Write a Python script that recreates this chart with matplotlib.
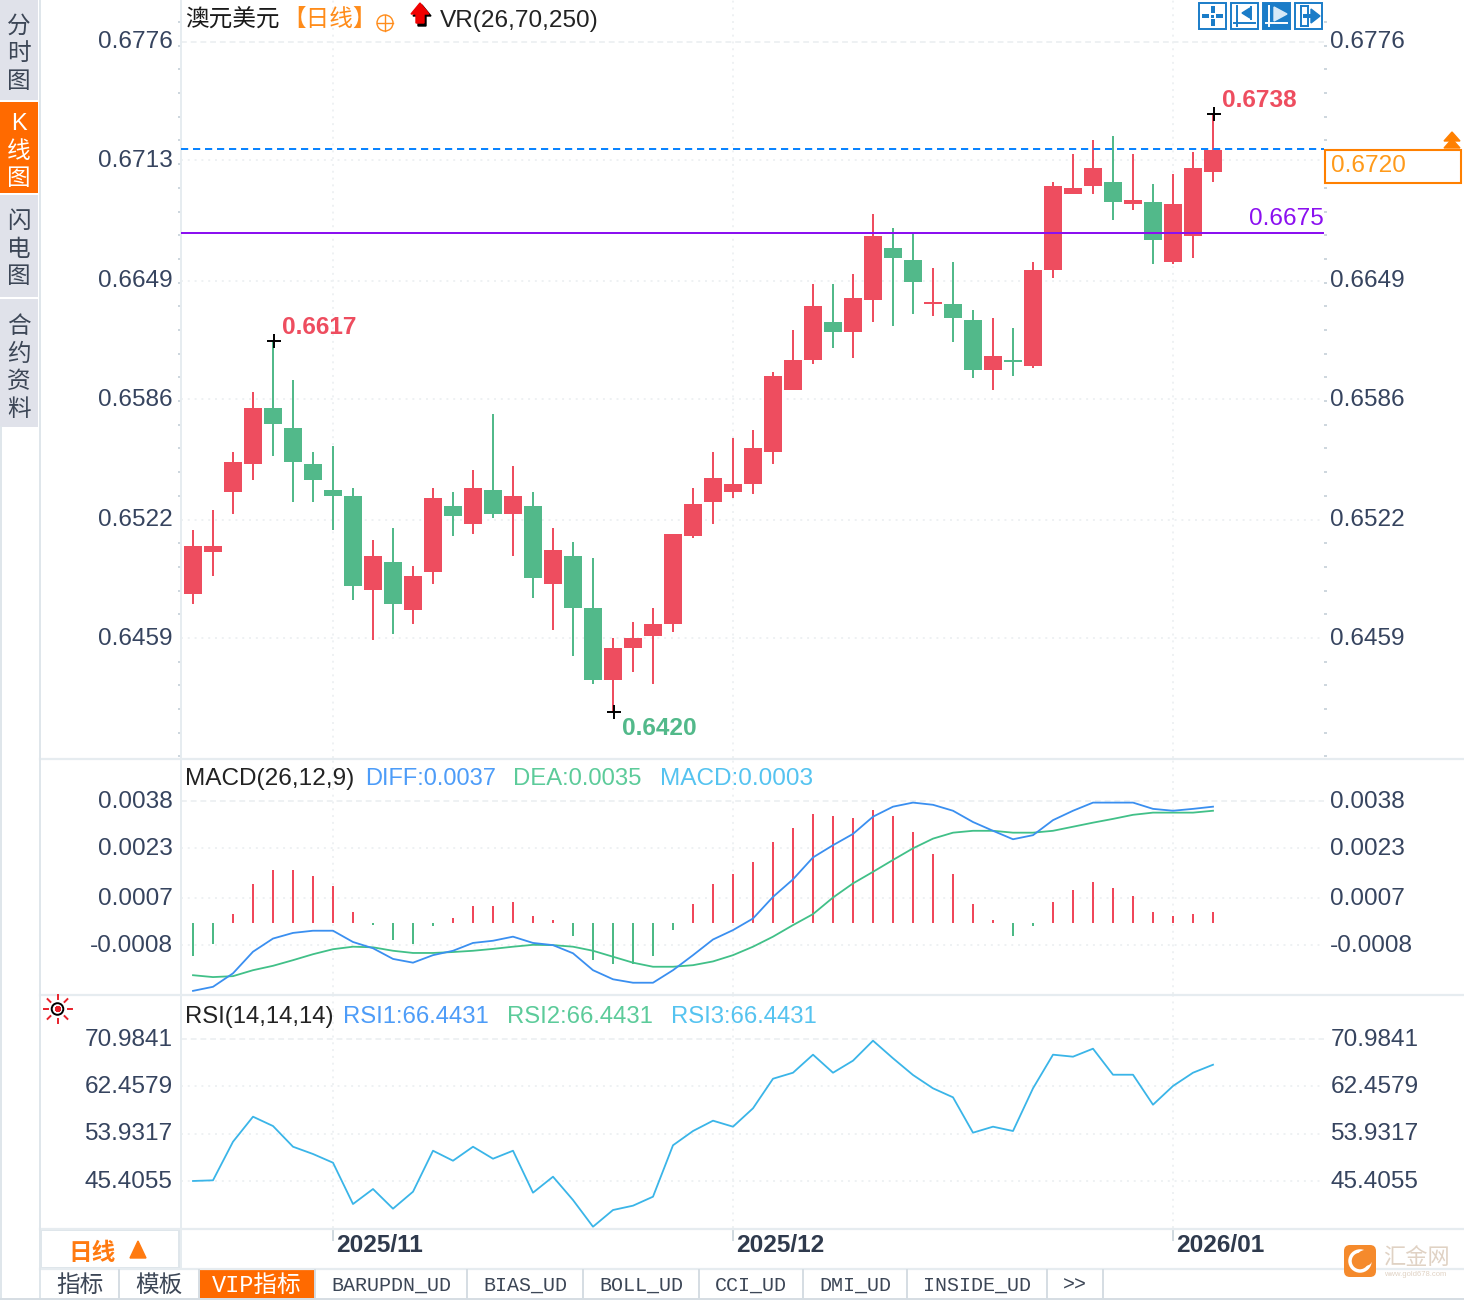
import matplotlib
matplotlib.use('Agg')
import math
import matplotlib.pyplot as plt
from matplotlib.patches import Rectangle, Polygon, Circle, FancyBboxPatch
from matplotlib.ticker import AutoMinorLocator
from matplotlib.transforms import ScaledTranslation

plt.rcParams['font.family'] = ['Liberation Sans', 'Noto Sans CJK SC', 'DejaVu Sans']

# candles, red when close >= open
opens = [.64824, .65047, .65366, .65515, .65813, .65707, .65515, .65377, .65345, .64845,
         .64994, .64739, .64941, .65292, .65196, .65377, .65249, .65292, .64877, .65026,
         .64749, .64367, .64537, .64601, .64664, .65132, .65313, .65366, .65409, .65579,
         .65909, .66069, .66271, .66218, .66388, .66664, .66600, .66366, .66366, .66281,
         .66015, .66069, .66037, .66547, .66952, .66994, .67015, .66898, .66909, .66590,
         .66728, .67069]
highs = [.65164, .65271, .65579, .65898, .66170, .65962, .65579, .65611, .65388, .65111,
         .65175, .64973, .65388, .65366, .65484, .65781, .65505, .65366, .65175, .65101,
         .65015, .64590, .64675, .64749, .65143, .65388, .65579, .65654, .65696, .66005,
         .66228, .66473, .66473, .66526, .66845, .66771, .66744, .66558, .66590, .66335,
         .66292, .66239, .66590, .67015, .67164, .67239, .67260, .67164, .67005, .67058,
         .67175, .67376]
lows = [.64771, .64920, .65249, .65430, .65558, .65313, .65313, .65164, .64792, .64579,
        .64611, .64664, .64877, .65132, .65143, .65228, .65026, .64803, .64632, .64494,
        .64345, .64196, .64409, .64345, .64622, .65122, .65196, .65335, .65356, .65515,
        .65909, .66047, .66132, .66079, .66271, .66249, .66313, .66303, .66164, .65973,
        .65909, .65983, .66026, .66505, .66952, .66952, .66813, .66866, .66579, .66579,
        .66611, .67015]
closes = [.65079, .65079, .65526, .65813, .65728, .65526, .65430, .65345, .64866, .65026,
          .64771, .64920, .65335, .65239, .65388, .65249, .65345, .64909, .65058, .64749,
          .64367, .64537, .64590, .64664, .65143, .65303, .65441, .65409, .65601, .65983,
          .66069, .66356, .66218, .66398, .66728, .66611, .66483, .66377, .66292, .66015,
          .66090, .66058, .66547, .66994, .66983, .67090, .66909, .66920, .66707, .66898,
          .67090, .67186]
price_ticks = [0.6776, 0.6713, 0.6649, 0.6586, 0.6522, 0.6459]
last_price = 0.67190
purple_level = 0.66745

macd_hist = [-.00115, -.00077, .00019, .00115, .0016, .0016, .0014, .00109, .00025, -.00015,
             -.00064, -.00077, -.00019, .00006, .00045, .00045, .00057, .00013, .0, -.00051,
             -.00128, -.00141, -.00139, -.00115, -.00032, .00051, .00115, .00147, .00185, .00249,
             .00294, .00338, .00332, .00326, .00351, .00332, .00281, .00211, .00147, .00051,
             .0, -.00051, -.00019, .00057, .00096, .00121, .00102, .00077, .00025, .00013,
             .00019, .00025]
macd_base = -.0001
diff = [-.00226, -.00213, -.0017, -.00101, -.00059, -.00041, -.00034, -.00034, -.0007, -.0009,
        -.00124, -.00136, -.00112, -.00098, -.00073, -.00066, -.00053, -.00073, -.0008, -.00106,
        -.0016, -.00189, -.002, -.002, -.0016, -.00112, -.00062, -.00032, .00005, .00074,
        .0013, .002, .00239, .00275, .0033, .00362, .00375, .00368, .00349, .00313,
        .00285, .00258, .00271, .00319, .00349, .00375, .00375, .00375, .00355, .00349,
        .00355, .00362]
dea = [-.00176, -.00182, -.00179, -.0016, -.00146, -.00128, -.00109, -.00093, -.00085, -.00087,
       -.00098, -.00105, -.00105, -.00102, -.00098, -.00092, -.00085, -.00079, -.0008, -.00085,
       -.00098, -.00117, -.00136, -.00149, -.00149, -.00144, -.00132, -.00112, -.00085, -.00053,
       -.00016, .00019, .00072, .00117, .00154, .00192, .00229, .0026, .00279, .00285,
       .00285, .00279, .00279, .00285, .00298, .00311, .00323, .00336, .00343, .00343,
       .00343, .00349]
macd_ticks = [0.0038, 0.0023, 0.0007, -0.0008]

rsi = [45.41, 45.53, 52.48, 56.99, 55.31, 51.58, 50.27, 48.70, 41.26, 43.96,
       40.42, 43.48, 50.86, 49.06, 51.58, 49.42, 50.86, 43.30, 46.18, 41.98,
       37.17, 40.18, 40.96, 42.58, 51.84, 54.41, 56.27, 55.19, 58.50, 63.83,
       64.91, 68.16, 64.91, 67.08, 70.68, 67.51, 64.50, 62.10, 60.48, 54.11,
       55.19, 54.41, 62.10, 68.16, 67.80, 69.24, 64.55, 64.55, 59.15, 62.52,
       64.91, 66.35]
rsi_ticks = [70.9841, 62.4579, 53.9317, 45.4055]

month_pos = [7, 27, 49]
month_labels = ['2025/11', '2025/12', '2026/01']
bottom_tabs = ['指标', '模板', 'VIP指标', 'BARUPDN_UD', 'BIAS_UD', 'BOLL_UD', 'CCI_UD', 'DMI_UD', 'INSIDE_UD', '>>']
tab_edges = [40, 119, 199, 315, 467, 583, 699, 803, 907, 1047, 1103]
side_tabs = [('分时图', 0, 100, 27), ('K线图', 102, 193, 124), ('闪电图', 195, 297, 222), ('合约资料', 299, 427, 327)]

W, H = 1464, 1300
RED = '#ee4d5f'
GREEN = '#52b98a'
GRID = '#eef1f3'
LINE = '#e6ecf0'
TXT = '#36445f'
FS = 17.6
PX = 0.72  # one pixel in points at dpi 100

fig = plt.figure(figsize=(W / 100, H / 100), dpi=100)
xs = list(range(len(opens)))


def panel(top, bottom):
    a = fig.add_axes([181 / W, 1 - bottom / H, (1324 - 181) / W, (bottom - top) / H])
    a.set_xlim(-0.6, 56.55)
    a.set_xticks([])
    for s in ['top', 'right', 'bottom']:
        a.spines[s].set_visible(False)
    a.spines['left'].set_color(LINE)
    a.spines['left'].set_linewidth(1.4)
    return a


def grids(a, ticks, labels):
    a.set_yticks(ticks)
    a.set_yticklabels(labels, fontsize=FS, color=TXT)
    a.tick_params(axis='y', length=0, labelleft=True, labelright=True)
    a.tick_params(axis='y', pad=6)
    up = ScaledTranslation(0, 2 / 100, fig.dpi_scale_trans)
    back = ScaledTranslation(-2 / 100, 2 / 100, fig.dpi_scale_trans)
    for t in a.yaxis.get_major_ticks():
        t.label1.set_transform(t.label1.get_transform() + up)
        t.label2.set_transform(t.label2.get_transform() + back)
    for n, t in enumerate(ticks):
        style = (0, (3, 2)) if n == 0 else (0, (1, 2.5))
        a.axhline(t, color=GRID, lw=1.4, ls=style, zorder=0)
    for p in month_pos:
        a.axvline(p, color=GRID, lw=1.4, ls=(0, (1, 2.5)), zorder=0)


# main candles
ax = panel(0, 758)
ax.set_ylim(0.63952, 0.67983)
grids(ax, price_ticks, ['%.4f' % t for t in price_ticks])
# the last price box sits over this right hand label
ax.yaxis.get_major_ticks()[1].label2.set_visible(False)
ax.yaxis.set_minor_locator(AutoMinorLocator(5))
ax.tick_params(axis='y', which='minor', length=2, width=1.4, color='#cdd6de', left=True, right=True)
for i in xs:
    c = RED if closes[i] >= opens[i] else GREEN
    ax.vlines(i, lows[i], highs[i], color=c, lw=1.44, zorder=2)
    lo, hi = sorted([opens[i], closes[i]])
    ax.bar(i, hi - lo, bottom=lo, width=0.9, color=c, zorder=3)
ax.axhline(last_price, color='#0a84ff', lw=1.44, ls=(0, (3.6, 2.4)), zorder=4)
ax.axhline(purple_level, color='#8b10f0', lw=1.44, zorder=4)

imax = highs.index(max(highs))
imin = lows.index(min(lows))
i2 = highs.index(max(highs[:15]))
for i, y in [(imax, highs[imax]), (imin, lows[imin]), (i2, highs[i2])]:
    ax.plot(i + 0.05, y, marker='+', ms=10, mew=1.4, color='black', zorder=5)
ax.annotate('%.4f' % highs[imax], (imax, highs[imax]), xytext=(9 * PX, 14 * PX), textcoords='offset points',
            fontsize=FS, color=RED, va='center', fontweight='bold')
ax.annotate('%.4f' % highs[i2], (i2, highs[i2]), xytext=(9 * PX, 13 * PX), textcoords='offset points',
            fontsize=FS, color=RED, va='center', fontweight='bold')
ax.annotate('%.4f' % lows[imin], (imin, lows[imin]), xytext=(9 * PX, -16 * PX), textcoords='offset points',
            fontsize=FS, color=GREEN, va='center', fontweight='bold')
ax.annotate('0.6675', (56.55, purple_level), xytext=(0, 14 * PX), textcoords='offset points',
            fontsize=FS, color='#8b10f0', ha='right', va='center')

# macd
ax2 = panel(760, 994)
ax2.set_ylim(-0.00236, 0.00511)
grids(ax2, macd_ticks, ['%.4f' % t for t in macd_ticks])
for i in xs:
    c = '#f0475a' if macd_hist[i] >= macd_base else '#4cb985'
    ax2.vlines(i, macd_base, macd_hist[i], color=c, lw=1.44, zorder=2)
ax2.plot(xs, dea, color='#41c088', lw=1.3, zorder=3)
ax2.plot(xs, diff, color='#3a8ff0', lw=1.3, zorder=4)

# rsi
ax3 = panel(996, 1228)
ax3.set_ylim(36.94, 78.73)
grids(ax3, rsi_ticks, ['%.4f' % t for t in rsi_ticks])
ax3.plot(xs, rsi, color='#3ab5e8', lw=1.3, zorder=3)

# date strip
ax4 = panel(1230, 1268)
ax4.set_ylim(0, 1)
ax4.set_yticks([])
for p, s in zip(month_pos, month_labels):
    ax4.vlines(p, 0.72, 1, color='#cfd8df', lw=1.4)
    ax4.annotate(s, (p, 0.5), xytext=(3 * PX, 4 * PX), textcoords='offset points', fontsize=FS,
                 fontweight='bold', color='#2f3a4d', va='center')

# everything round the panels
ov = fig.add_axes([0, 0, 1, 1])
ov.set_xlim(0, W)
ov.set_ylim(H, 0)
ov.axis('off')
ov.patch.set_alpha(0)

for y in [759, 995, 1229, 1269]:
    ov.plot([40, W], [y, y], color=LINE, lw=1.6)
ov.plot([39.5, 39.5], [0, 1300], color='#dfe6eb', lw=1.4)
ov.plot([1, 1], [427, 1300], color='#dfe6eb', lw=1.4)
ov.plot([0, W], [1299, 1299], color='#d5dde3', lw=1.4)

for name, y0, y1, first in side_tabs:
    active = name.startswith('K')
    ov.add_patch(Rectangle((0, y0), 38, y1 - y0, color='#ff6a00' if active else '#e0e2ea', lw=0))
    for k, ch in enumerate(name):
        ov.text(19, first + 27.5 * k, ch, fontsize=17, ha='center', va='center',
                color='white' if active else '#3c4656')

# titles
ov.text(185, 20, '澳元美元', fontsize=17, color='#1a1a1a', va='center')
ov.text(282, 20, '【日线】', fontsize=17, color='#ff8c1a', va='center')
ov.add_patch(Circle((385, 23), 8, fc='none', ec='#ff8c1a', lw=1))
ov.plot([377, 393], [23, 23], color='#ff8c1a', lw=1)
ov.plot([385, 385], [15, 31], color='#ff8c1a', lw=1)
ov.add_patch(Polygon([(422, 5), (431, 16), (426, 16), (426, 26), (418, 26), (418, 16), (413, 16)], color='black'))
ov.add_patch(Polygon([(420, 3), (429, 14), (424, 14), (424, 23), (416, 23), (416, 14), (411, 14)], color='#f00000'))
ov.text(440, 21, 'VR(26,70,250)', fontsize=FS, color='#222222', va='center')

for txt, x, col, fs in [('MACD(26,12,9)', 185, '#222222', FS), ('DIFF:0.0037', 365, '#4d9cf8', 17),
                        ('DEA:0.0035', 513, '#5ccb9a', 17.2), ('MACD:0.0003', 660, '#55c3f0', FS)]:
    ov.text(x, 779, txt, fontsize=fs, color=col, va='center')
for txt, x, col, fs in [('RSI(14,14,14)', 185, '#222222', 17.2), ('RSI1:66.4431', 343, '#4d9cf8', 17.2),
                        ('RSI2:66.4431', 507, '#5ccb9a', 17.2), ('RSI3:66.4431', 671, '#55c3f0', 17.2)]:
    ov.text(x, 1017, txt, fontsize=fs, color=col, va='center')

# last price box
ov.add_patch(Rectangle((1325, 149.5), 135.5, 33, fc='white', ec='#ff8000', lw=1.5, zorder=5))
ov.text(1331, 166.5, '0.6720', fontsize=FS, color='#ff9a1a', va='center', zorder=6)
ov.add_patch(Polygon([(1452, 132), (1460, 141), (1444, 141)], color='#ff8000', zorder=6))
ov.add_patch(Polygon([(1452, 139), (1460, 148), (1444, 148)], color='#ff8000', zorder=6))

# toolbar
BLUE = '#1a7cc8'
for n, x in enumerate([1199, 1231, 1263, 1295]):
    on = n == 2
    ov.add_patch(Rectangle((x, 3), 27, 26, fc=BLUE if on else 'white', ec=BLUE, lw=1.4))
    c = 'white' if on else BLUE
    if n == 0:
        ov.add_patch(Rectangle((x + 12, 14.5), 3, 3, color=c, lw=0))
        ov.add_patch(Rectangle((x + 3, 14), 7, 4, color=c, lw=0))
        ov.add_patch(Rectangle((x + 17, 14), 7, 4, color=c, lw=0))
        ov.add_patch(Rectangle((x + 11.5, 6), 4, 7, color=c, lw=0))
        ov.add_patch(Rectangle((x + 11.5, 19), 4, 7, color=c, lw=0))
    else:
        ov.plot([x + 6, x + 6], [6, 26], color=c, lw=1.4)
        if n < 3:
            ov.plot([x + 3, x + 24], [23, 23], color=c, lw=1.4)
        if n == 1:
            ov.plot([x + 20, x + 20], [7, 19], color=c, lw=1.4)
            ov.add_patch(Polygon([(x + 11, 13), (x + 19, 8), (x + 19, 18)], color=c))
        if n == 2:
            ov.add_patch(Polygon([(x + 11, 7), (x + 24, 14), (x + 11, 21)], color='#d6e9f7'))
        if n == 3:
            ov.plot([x + 6, x + 13], [6, 6], color=c, lw=1.4)
            ov.plot([x + 6, x + 13], [26, 26], color=c, lw=1.4)
            ov.plot([x + 13, x + 13], [6, 26], color=c, lw=1.4)
            ov.add_patch(Polygon([(x + 16, 9), (x + 25, 16), (x + 16, 23)], color=c))
            ov.add_patch(Rectangle((x + 8, 14), 9, 4, color=c, lw=0))

# small sun by the rsi title
ov.add_patch(Circle((57.5, 1009), 5.8, fc='white', ec='black', lw=1.4))
ov.add_patch(Rectangle((54.5, 1007), 6, 4, color='#e8202a', lw=0))
ov.add_patch(Rectangle((55.5, 1006), 4, 6, color='#e8202a', lw=0))
for k in range(8):
    a = k * math.pi / 4
    ov.plot([57.5 + 10 * math.cos(a), 57.5 + 14 * math.cos(a)],
            [1009 + 10 * math.sin(a), 1009 + 14 * math.sin(a)], color='#e8202a', lw=1.4)

# period selector and tabs
ov.add_patch(Rectangle((41, 1230), 138, 38, fc='white', ec='#dfe6eb', lw=1.4))
ov.text(68, 1253, '日线', fontsize=17, color='#ff7a10', va='center', fontweight='bold')
ov.add_patch(Polygon([(138, 1241), (146, 1258), (130, 1258)], color='#ff7a10'))
for n, name in enumerate(bottom_tabs):
    x0, x1 = tab_edges[n], tab_edges[n + 1]
    if name.startswith('VIP'):
        ov.add_patch(Rectangle((x0 + 1, 1270), x1 - x0 - 1, 28, color='#ff6a00', lw=0))
    ov.plot([x1, x1], [1270, 1298], color='#d5dde3', lw=1.4)
    cjk = n < 3
    ov.text((x0 + x1) / 2, 1285, name, ha='center', va='center', fontsize=17 if cjk else 14.4,
            family=['Liberation Mono', 'Noto Sans CJK SC'] if n == 2 or not cjk else ['Noto Sans CJK SC'],
            color='white' if n == 2 else '#3c4656')

# watermark
ov.add_patch(FancyBboxPatch((1347, 1248), 26, 26, boxstyle='round,pad=3,rounding_size=6', color='#f58a2c', lw=0, zorder=3))
ov.add_patch(Circle((1360, 1261), 10, fc='none', ec='white', lw=2.5, zorder=4))
ov.add_patch(Circle((1365, 1258), 8, color='#f58a2c', lw=0, zorder=5))
ov.text(1383, 1258, '汇金网', fontsize=16, color='#e0d2c4', va='center')
ov.text(1384, 1275, 'www.gold678.com', fontsize=5.5, color='#e0d2c4', va='center')

fig.savefig('out.png', dpi=100)
